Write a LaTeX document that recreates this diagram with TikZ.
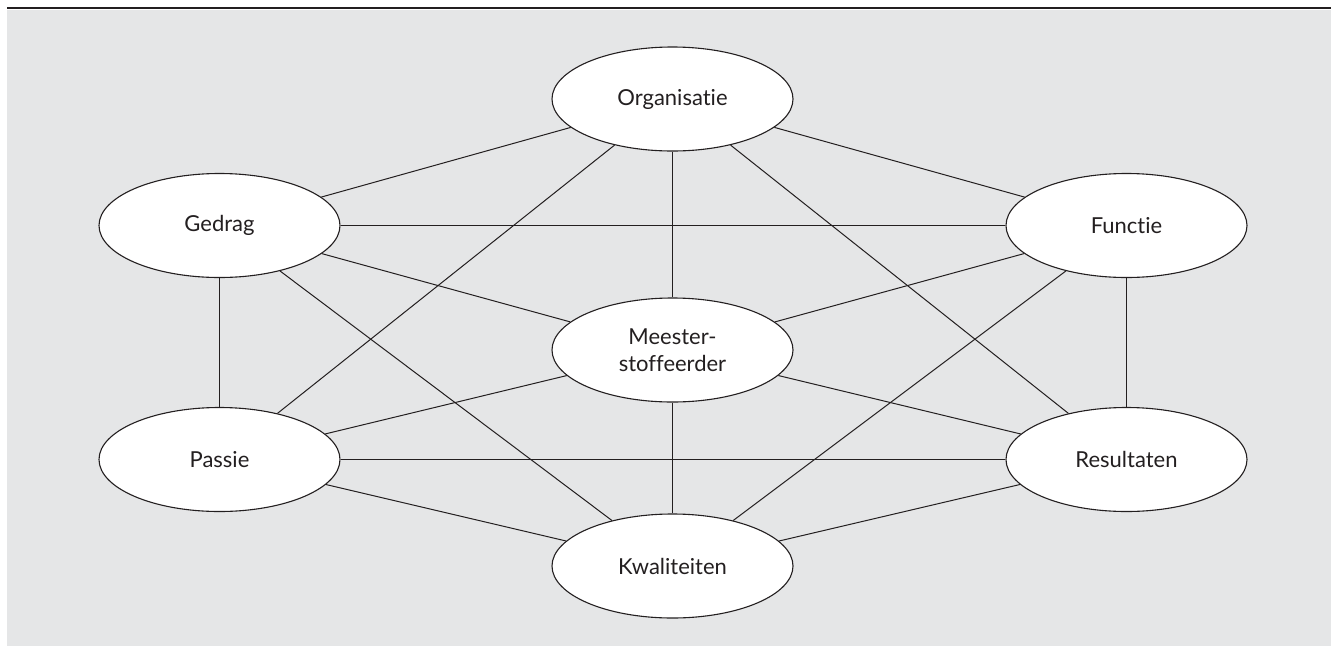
\documentclass[tikz,border=0pt]{standalone}
\usepackage{fontspec}
\setmainfont[Ligatures={NoCommon}]{Lato}
\usetikzlibrary{shapes.geometric}
\definecolor{bg}{HTML}{E5E6E7}
\definecolor{ink}{HTML}{231F20}
\begin{document}
\begin{tikzpicture}[x=1pt,y=-1pt,
  box/.style={ellipse,draw=ink,fill=white,line width=1.1pt,minimum width=241pt,minimum height=104pt,inner sep=0pt,
    font=\fontsize{22}{27}\selectfont,text=ink,align=center},
  link/.style={draw=ink,line width=1pt}]
\useasboundingbox (0,0) rectangle (1331,646);
\fill[bg] (7,10) rectangle (1331,646);
\draw[ink,line width=1.8pt] (7,8) -- (1331,8);
\node[box] (org) at (672.5,99) {Organisatie};
\node[box] (ged) at (219.5,225.5) {Gedrag};
\node[box] (fun) at (1126.5,225.5) {Functie};
\node[box] (mee) at (672.5,350) {Meester-\\stoffeerder};
\node[box] (pas) at (219.5,459.5) {Passie};
\node[box] (res) at (1126.5,459.5) {Resultaten};
\node[box] (kwa) at (672.5,566) {Kwaliteiten};
\foreach \a/\b in {org/ged,org/fun,org/mee,org/pas,org/res,
  ged/fun,ged/mee,ged/pas,ged/kwa,
  fun/mee,fun/res,fun/kwa,
  mee/pas,mee/res,mee/kwa,
  pas/res,pas/kwa,res/kwa}
  \draw[link] (\a) -- (\b);
\end{tikzpicture}
\end{document}
